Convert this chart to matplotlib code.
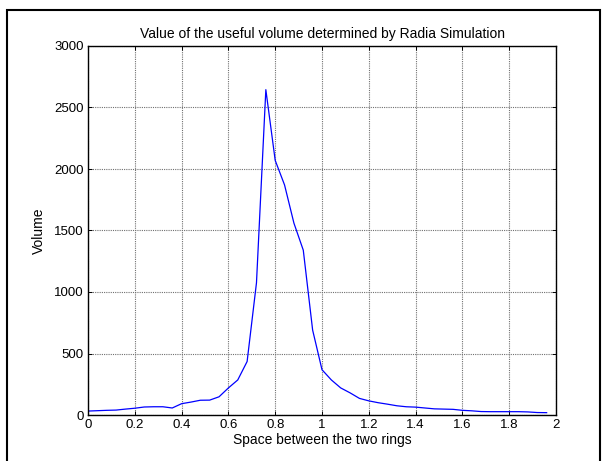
import matplotlib
matplotlib.use("Agg")
from matplotlib import pyplot as plt
from matplotlib.patches import Rectangle

plt.rcParams['font.family'] = ['Liberation Sans', 'DejaVu Sans']

# spacing between the rings (step 0.04)
space = [0.00, 0.04, 0.08, 0.12, 0.16, 0.20, 0.24, 0.28, 0.32, 0.36,
         0.40, 0.44, 0.48, 0.52, 0.56, 0.60, 0.64, 0.68, 0.72, 0.76,
         0.80, 0.84, 0.88, 0.92, 0.96, 1.00, 1.04, 1.08, 1.12, 1.16,
         1.20, 1.24, 1.28, 1.32, 1.36, 1.40, 1.44, 1.48, 1.52, 1.56,
         1.60, 1.64, 1.68, 1.72, 1.76, 1.80, 1.84, 1.88, 1.92, 1.96]

volume = [32, 35, 38, 40, 48, 55, 65, 67, 67, 57,
          92, 105, 120, 121, 148, 220, 285, 435, 1075, 2645,
          2070, 1870, 1560, 1340, 690, 368, 285, 220, 180, 135,
          115, 100, 88, 75, 67, 64, 57, 50, 48, 46,
          38, 34, 28, 27, 27, 27, 27, 25, 20, 19]

xticks = [0, 0.2, 0.4, 0.6, 0.8, 1, 1.2, 1.4, 1.6, 1.8, 2]
xticklabels = ['0', '0.2', '0.4', '0.6', '0.8', '1', '1.2', '1.4', '1.6', '1.8', '2']
yticks = [0, 500, 1000, 1500, 2000, 2500, 3000]

fig = plt.figure(figsize=(6.06, 4.61), dpi=100)
ax = fig.add_axes([88/606, 1 - 415/461, (556 - 88)/606, (415 - 46)/461])

ax.plot(space, volume, color='#0000ff', linewidth=0.9)

ax.set_xlim(0, 2)
ax.set_ylim(0, 3000)
ax.set_xticks(xticks)
ax.set_xticklabels(xticklabels)
ax.set_yticks(yticks)

ax.grid(True, color='#707070', linestyle=(0, (1, 1)), linewidth=0.8)
ax.tick_params(direction='in', top=True, right=True, labelsize=9.5,
               length=3, width=0.7, pad=3)
for s in ax.spines.values():
    s.set_linewidth(1.0)

ax.set_title('Value of the useful volume determined by Radia Simulation',
             fontsize=10, pad=6)
ax.set_xlabel('Space between the two rings', fontsize=10, labelpad=1)
ax.set_ylabel('Volume', fontsize=10, labelpad=6)

# outer frame around the figure
fig.patches.append(Rectangle((7/606, -0.05), (600 - 7)/606, 1.05 - 10/461,
                             transform=fig.transFigure, fill=False,
                             edgecolor='black', linewidth=1.5, clip_on=False))

fig.savefig('out.png', dpi=100)
